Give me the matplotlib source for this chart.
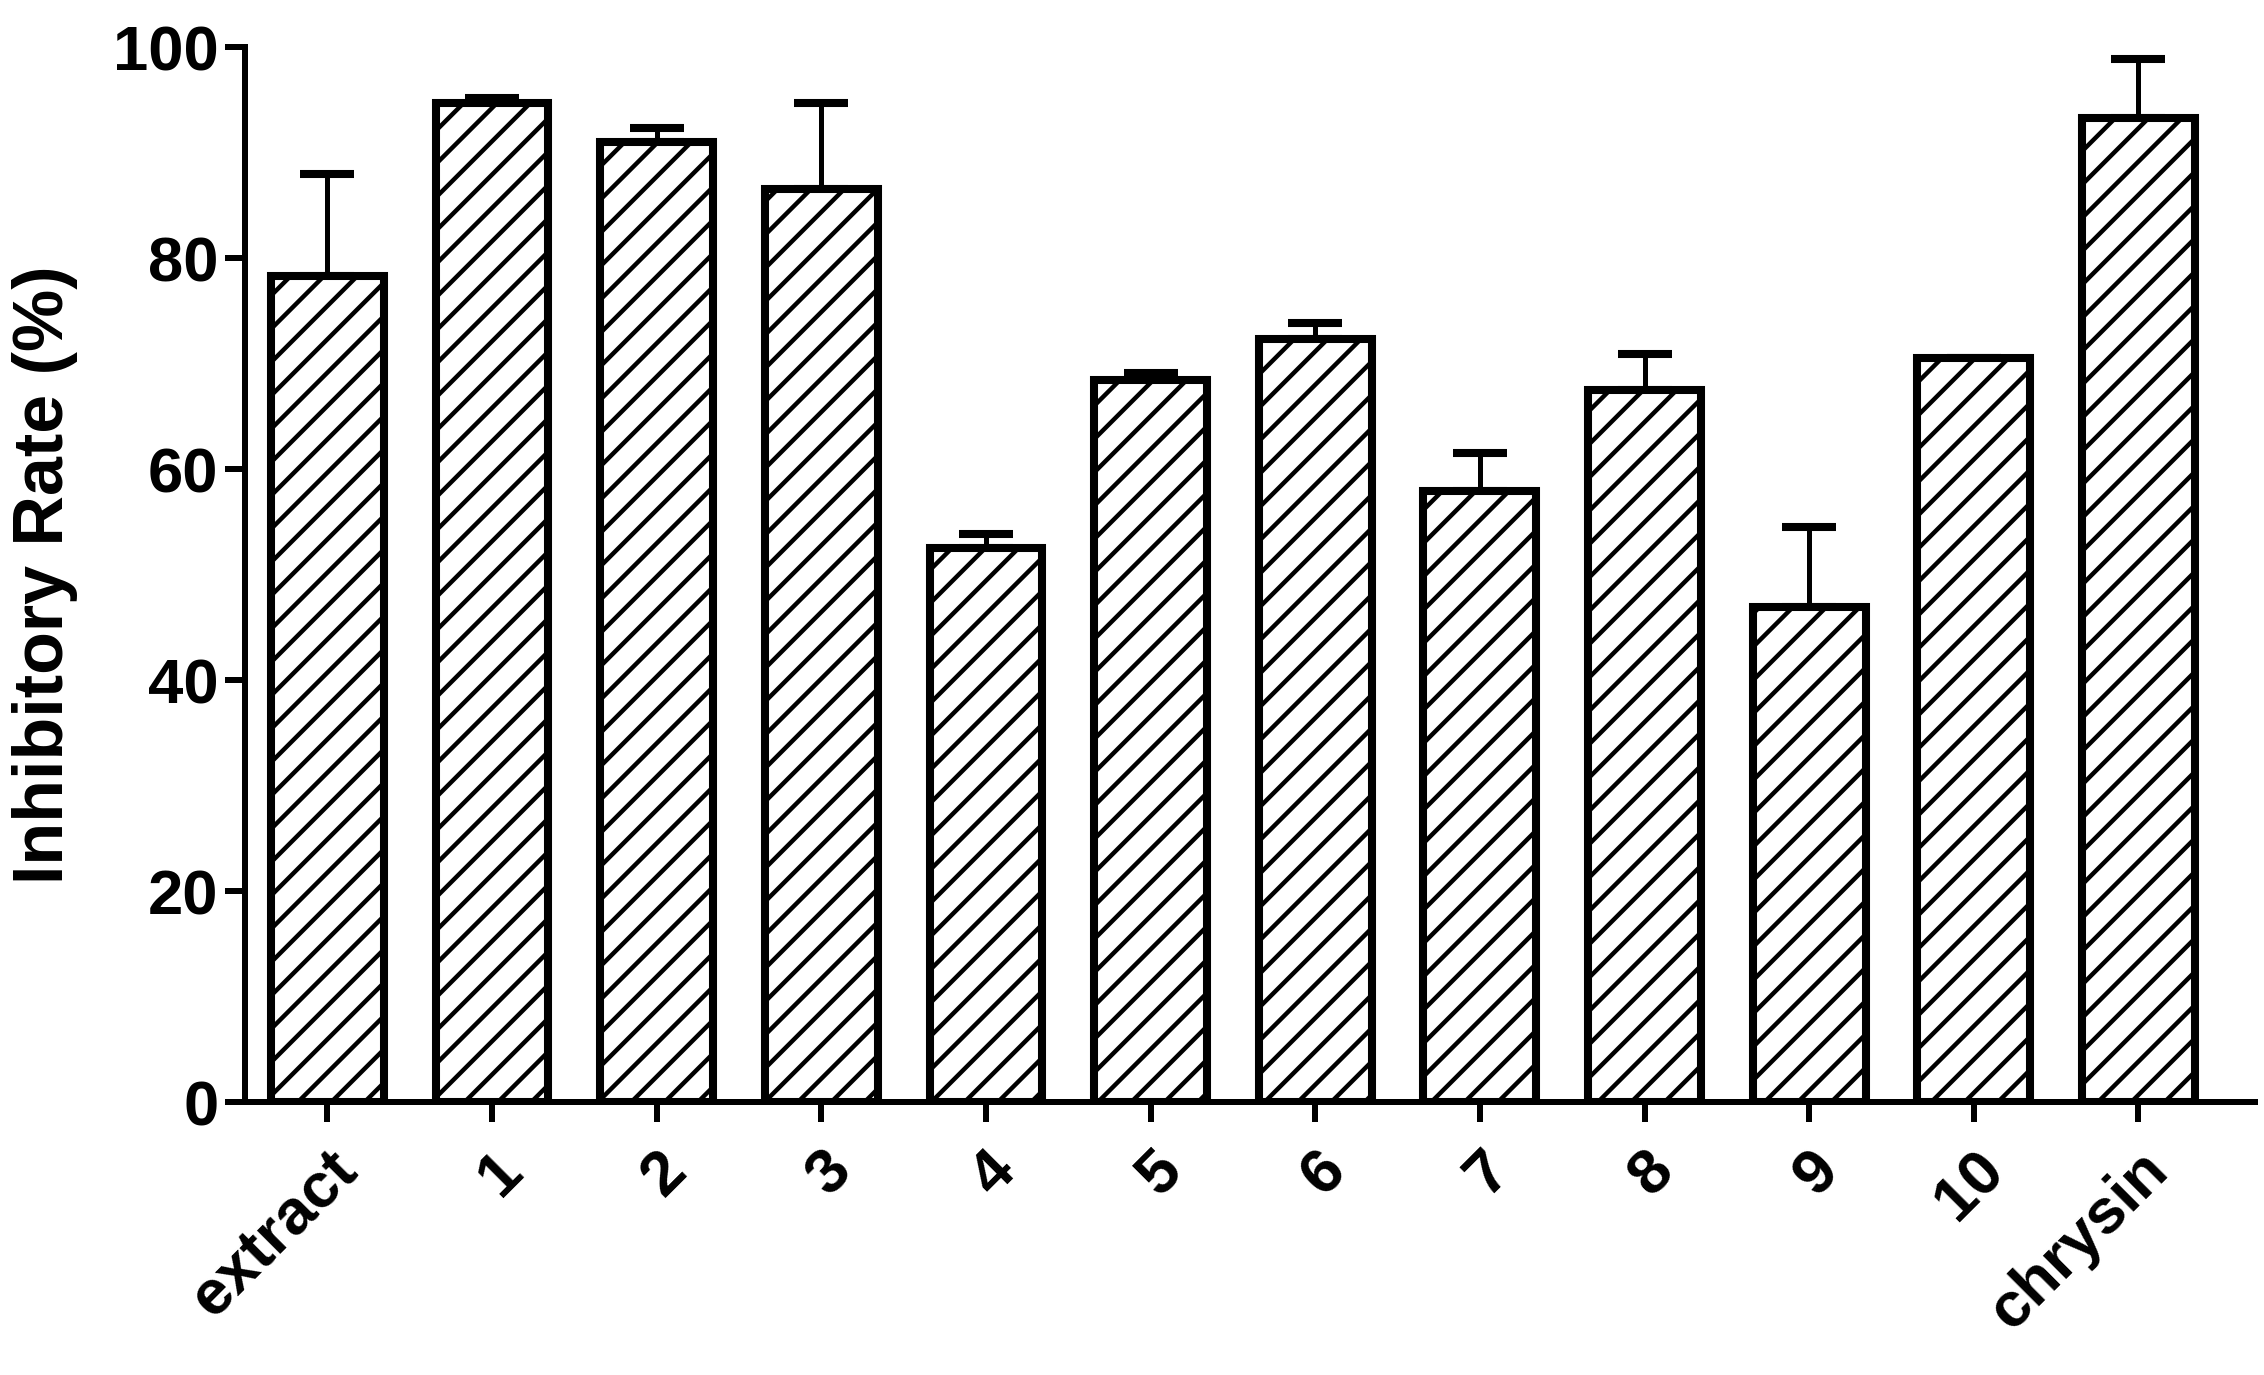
import numpy as np
import matplotlib
matplotlib.use('Agg')
import matplotlib.pyplot as plt

# data
labels = ['extract', '1', '2', '3', '4', '5', '6', '7', '8', '9', '10', 'chrysin']
means = [78.3, 94.7, 91.0, 86.5, 52.5, 68.4, 72.3, 57.9, 67.5, 46.9, 70.5, 93.3]
errs = [9.7, 0.5, 1.3, 8.2, 1.3, 0.7, 1.5, 3.6, 3.4, 7.6, 0.0, 5.6]
yticks = [0, 20, 40, 60, 80, 100]

plt.rcParams['font.family'] = ['Liberation Sans', 'DejaVu Sans']
plt.rcParams['font.weight'] = 'bold'
plt.rcParams['hatch.linewidth'] = 1.6
plt.rcParams['hatch.color'] = 'black'

fig = plt.figure(figsize=(11.32, 6.875), dpi=200)
ax = fig.add_axes([0.1082, 0.1985, 0.888, 0.7673])

x = np.arange(len(labels))
ax.bar(x, means, width=0.685, color='white', edgecolor='black',
       linewidth=2.9, hatch='//', zorder=3)
lower = np.zeros(len(errs))
ax.errorbar(x, means, yerr=[lower, errs], fmt='none', ecolor='black',
            elinewidth=1.8, capsize=9.6, capthick=2.9, zorder=2)

ax.set_xlim(-0.5, 11.71)
ax.set_ylim(0, 100)
ax.set_yticks(yticks)
ax.set_xticks(x)
ax.set_xticklabels(labels, rotation=45, ha='right', va='top',
                   rotation_mode='anchor', fontsize=22.8, fontweight='bold')
for t in ax.get_yticklabels():
    t.set_fontsize(22.8)
    t.set_fontweight('bold')

ax.set_ylabel('Inhibitory Rate (%)', fontsize=25.2, fontweight='bold')
ax.yaxis.set_label_coords(-0.083, 0.5)

for s in ['top', 'right']:
    ax.spines[s].set_visible(False)
ax.spines['left'].set_linewidth(2.16)
ax.spines['bottom'].set_linewidth(2.16)
ax.tick_params(axis='x', length=7.2, width=2.16, pad=6.6)
ax.tick_params(axis='y', length=7.2, width=2.16, pad=2.4)

fig.savefig('out.png', dpi=200)
